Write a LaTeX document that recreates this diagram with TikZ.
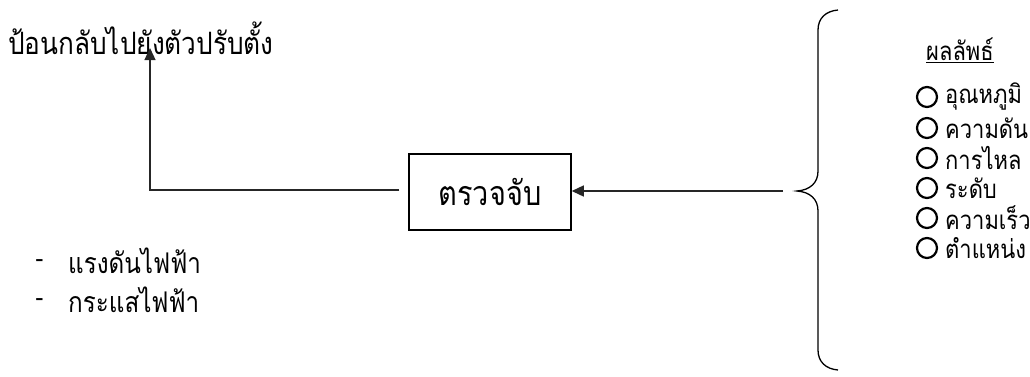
\documentclass[tikz,border=0pt]{standalone}
\usepackage{fontspec}
\newfontfamily\thaifont[Script=Thai, FakeStretch=0.85]{Loma}
\newfontfamily\dashfont{Liberation Sans}
\usetikzlibrary{arrows.meta}
\begin{document}
\begin{tikzpicture}[x=1pt,y=-1pt,
  txt/.style={font=\thaifont\fontsize{25.8}{30}\selectfont, inner sep=0pt},
  lefttxt/.style={font=\thaifont\fontsize{28.5}{32}\selectfont, inner sep=0pt},
  bigtxt/.style={font=\thaifont\fontsize{30.8}{34}\selectfont, inner sep=0pt},
  hyphentxt/.style={font=\dashfont\fontsize{26}{30}\selectfont, inner sep=0pt},
  conn/.style={line width=1.3pt, draw=black!85},
  arr/.style={conn, -{Triangle[length=12pt,width=11pt]}},
  bulletc/.style={circle, draw, line width=2.2pt, minimum size=20pt, inner sep=0pt},
  detbox/.style={draw, line width=1.5pt, minimum width=162pt, minimum height=76pt, inner sep=0pt}]
\useasboundingbox (0,0) rectangle (1030,376);
\node[bigtxt, anchor=west] (fb) at (8,38) {ป้อนกลับไปยังตัวปรับตั้ง};
\coordinate (tip) at (150,48);
\node[detbox, font=\thaifont\fontsize{34}{38}\selectfont] (box) at (490,192) {ตรวจจับ};
\draw[arr] ([xshift=-9pt]box.west |- 0,190) -| (tip);
\coordinate (bl) at (783,191);
\draw[arr] (bl) -- (box.east |- bl);
% brace
\draw[line width=1.3pt] (838,10) .. controls (826,11) and (818,18) .. (818,30)
  -- (818,171) .. controls (818,183) and (810,190) .. (797,191)
  .. controls (810,192) and (818,199) .. (818,211)
  -- (818,350) .. controls (818,362) and (826,369) .. (838,370);
% left list
\node[hyphentxt, anchor=west] (d1) at (35,264) {-};
\node[lefttxt, anchor=west] (l1) at (68,261) {แรงดันไฟฟ้า};
\node[hyphentxt, anchor=west] (d2) at (35,303) {-};
\node[lefttxt, anchor=west] (l2) at (68,300) {กระแสไฟฟ้า};
% results
\node[txt, anchor=west] (res) at (926,50) {\underline{ผลลัพธ์}};
\foreach \y/\t [count=\i] in {97/อุณหภูมิ,128/ความดัน,158/การไหล,188/ระดับ,218/ความเร็ว,248/ตำแหน่ง}{
  \node[bulletc] (c\i) at (927,\y) {};
  \node[txt, anchor=west] (r\i) at (945,\y) {\t};
}
\end{tikzpicture}
\end{document}
